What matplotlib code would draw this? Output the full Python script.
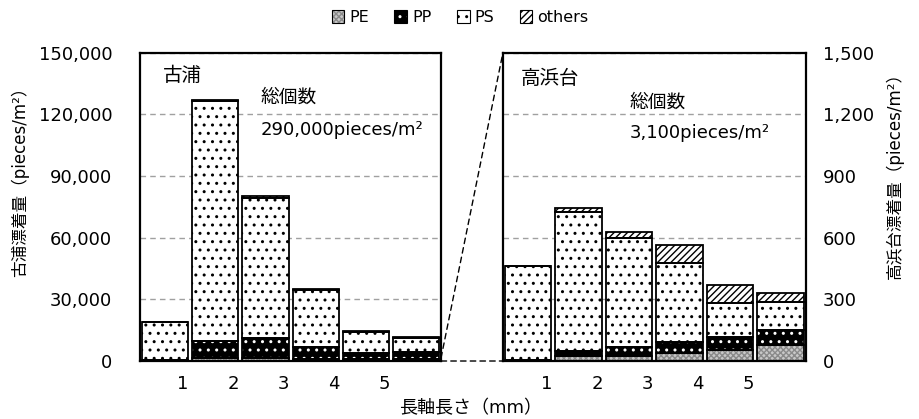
import matplotlib
matplotlib.use('Agg')
import matplotlib.pyplot as plt
import numpy as np
from matplotlib.patches import Patch, ConnectionPatch
from matplotlib.legend_handler import HandlerTuple

plt.rcParams['font.family'] = ['DejaVu Sans', 'Noto Sans CJK JP']
plt.rcParams['hatch.linewidth'] = 1.0

# data (pieces/m2)
sizes = ['1', '2', '3', '4', '5']
sites = ['古浦', '高浜台']
totals = ['290,000pieces/m²', '3,100pieces/m²']

furuura_PE = [200, 1500, 1500, 1200, 1000, 1000]
furuura_PP = [500, 8000, 9500, 5700, 2700, 3500]
furuura_PS = [18300, 116800, 68400, 27700, 10600, 6900]
furuura_others = [0, 700, 600, 400, 300, 400]

takahama_PE = [2, 24, 24, 40, 53, 76]
takahama_PP = [3, 24, 44, 52, 65, 73]
takahama_PS = [456, 678, 532, 386, 163, 139]
takahama_others = [0, 19, 27, 84, 87, 41]

# style of each polymer: (face, hatch colour, hatch)
styles = {
    'PE': ('#c8c8c8', '#8a8a8a', 'xxxxxx'),
    'PP': ('black', 'white', '..'),
    'PS': ('white', 'black', '..'),
    'others': ('white', 'black', '/////'),
}

fig = plt.figure(figsize=(9.2, 4.19), dpi=100)
ax1 = fig.add_axes([0.1522, 0.1384, 0.3272, 0.7363])
ax2 = fig.add_axes([0.5467, 0.1384, 0.3293, 0.7363])


def draw(ax, series, ymax):
    x = np.arange(len(series[0][1]))
    bottom = np.zeros(len(x))
    for name, vals in series:
        face, hcol, hatch = styles[name]
        ax.bar(x, vals, 0.92, bottom=bottom, color=face, edgecolor=hcol,
               hatch=hatch, linewidth=0, zorder=2)
        ax.bar(x, vals, 0.92, bottom=bottom, facecolor='none',
               edgecolor='black', linewidth=1.3, zorder=3)
        bottom += np.array(vals)
    ax.set_xlim(-0.5, 5.5)
    ax.set_ylim(0, ymax)
    ax.set_yticks(np.linspace(0, ymax, 6))
    ax.set_xticks(np.arange(5) + 0.36)
    ax.set_xticklabels(sizes)
    ax.tick_params(length=0, labelsize=13)
    ax.tick_params(axis='x', pad=10)
    ax.yaxis.set_major_formatter(matplotlib.ticker.StrMethodFormatter('{x:,.0f}'))
    ax.grid(axis='y', color='#a0a0a0', linestyle=(0, (4, 3)), linewidth=1, zorder=0)
    for s in ax.spines.values():
        s.set_linewidth(1.6)


draw(ax1, [('PE', furuura_PE), ('PP', furuura_PP), ('PS', furuura_PS),
           ('others', furuura_others)], 150000)
draw(ax2, [('PE', takahama_PE), ('PP', takahama_PP), ('PS', takahama_PS),
           ('others', takahama_others)], 1500)
ax1.tick_params(axis='y', pad=20)
ax2.yaxis.tick_right()
ax2.yaxis.set_label_position('right')
ax2.tick_params(axis='y', pad=12)

ax1.set_ylabel('古浦漂着量（pieces/m²）', fontsize=12)
ax2.set_ylabel('高浜台漂着量（pieces/m²）', fontsize=12)
ax1.yaxis.set_label_coords(-0.37, 0.593)
ax2.yaxis.set_label_coords(1.262, 0.613)
fig.text(0.511, 0.026, '長軸長さ（mm）', ha='center', va='center', fontsize=13)

ax1.text(0.076, 0.925, sites[0], transform=ax1.transAxes, fontsize=14, va='center')
ax1.text(0.399, 0.856, '総個数', transform=ax1.transAxes, fontsize=13.5, va='center')
ax1.text(0.399, 0.749, totals[0], transform=ax1.transAxes, fontsize=13, va='center')
ax2.text(0.059, 0.917, sites[1], transform=ax2.transAxes, fontsize=14, va='center')
ax2.text(0.419, 0.84, '総個数', transform=ax2.transAxes, fontsize=13.5, va='center')
ax2.text(0.419, 0.739, totals[1], transform=ax2.transAxes, fontsize=13, va='center')

# zoom connectors between panels
for ya, yb in [(0, 0), (1500, 1500)]:
    con = ConnectionPatch(xyA=(5.5, ya), coordsA=ax1.transData,
                          xyB=(-0.5, yb), coordsB=ax2.transData,
                          linestyle=(0, (4, 3)), color='black', linewidth=1)
    fig.add_artist(con)

handles = []
for name in ['PE', 'PP', 'PS', 'others']:
    face, hcol, hatch = styles[name]
    handles.append((Patch(facecolor=face, edgecolor=hcol, hatch=hatch, linewidth=0),
                    Patch(facecolor='none', edgecolor='black', linewidth=0.8)))
fig.legend(handles, ['PE', 'PP', 'PS', 'others'], loc='center',
           bbox_to_anchor=(0.5, 0.958), ncol=4, frameon=False, fontsize=11.5,
           handlelength=0.8, handleheight=0.8, handletextpad=0.3, columnspacing=1.6,
           handler_map={tuple: HandlerTuple(ndivide=1)})

fig.savefig('out.png', dpi=100)
